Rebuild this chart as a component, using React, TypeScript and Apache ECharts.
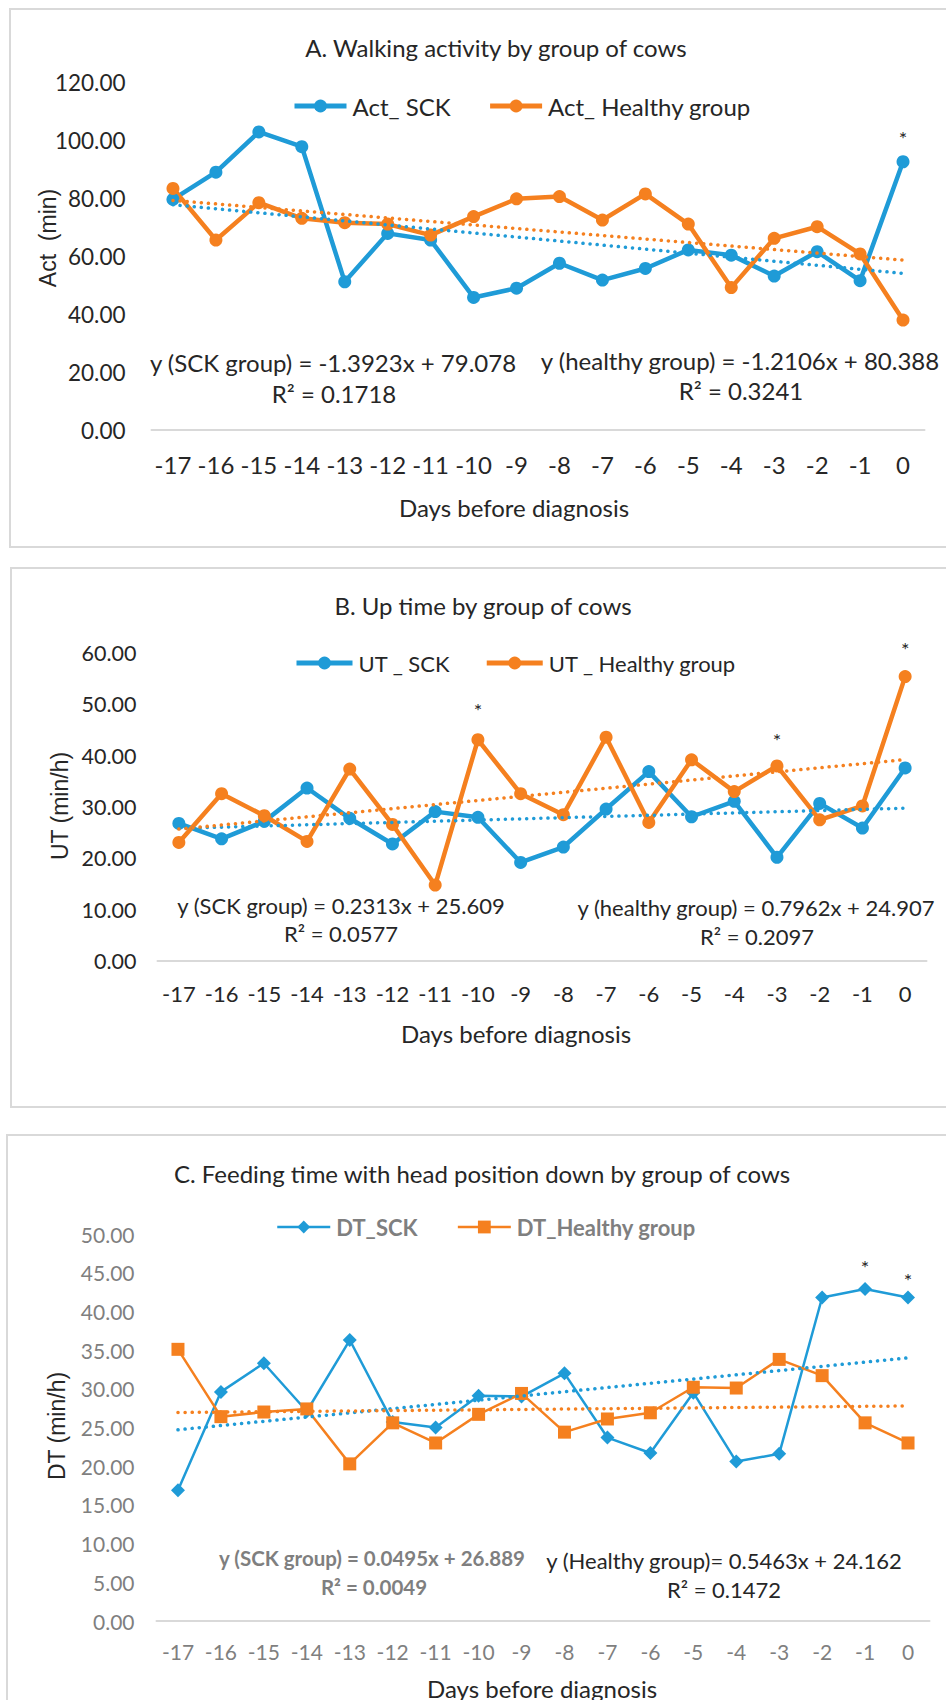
import React, { useEffect, useRef } from 'react';
import * as echarts from 'echarts';

const days = ['-17', '-16', '-15', '-14', '-13', '-12', '-11', '-10', '-9', '-8', '-7', '-6', '-5', '-4', '-3', '-2', '-1', '0'];

const actSCK = [79.5, 88.9, 102.8, 97.7, 51.1, 67.8, 65.5, 45.7, 48.9, 57.5, 51.7, 55.7, 62.1, 60.3, 53.1, 61.5, 51.5, 92.5];
const actHealthy = [83.3, 65.5, 78.4, 73.0, 71.5, 71.0, 67.2, 73.6, 79.7, 80.5, 72.4, 81.4, 71.0, 49.1, 66.1, 70.1, 60.7, 37.9];
const utSCK = [26.8, 23.8, 27.2, 33.7, 27.8, 22.8, 29.1, 28.0, 19.2, 22.2, 29.6, 36.9, 28.1, 31.1, 20.2, 30.7, 25.9, 37.6];
const utHealthy = [23.1, 32.6, 28.3, 23.3, 37.4, 26.6, 14.8, 43.1, 32.6, 28.5, 43.6, 27.0, 39.2, 33.0, 38.0, 27.5, 30.2, 55.4];
const dtSCK = [16.9, 29.6, 33.3, 27.1, 36.3, 25.7, 25.0, 29.1, 29.0, 32.0, 23.7, 21.7, 29.5, 20.6, 21.6, 41.8, 42.9, 41.8];
const dtHealthy = [35.1, 26.4, 27.0, 27.4, 20.3, 25.6, 23.0, 26.7, 29.4, 24.4, 26.1, 26.9, 30.2, 30.1, 33.8, 31.7, 25.6, 23.0];

// trendline coefficients [slope, intercept] (x = 1..18)
const actTrendSCK = [-1.3923, 79.078];
const actTrendHealthy = [-1.2106, 80.388];
const utTrendSCK = [0.2313, 25.609];
const utTrendHealthy = [0.7962, 24.907];
const dtTrendSCK = [0.5463, 24.162];
const dtTrendHealthy = [0.0495, 26.889];

// significance markers (category indices)
const actStarsSCK = [17];
const utStarsHealthy = [7, 14, 17];
const dtStarsSCK = [16, 17];

const BLUE = '#1F9BD7';
const ORANGE = '#F5801F';
const FONT = 'Lato';
const DARK = '#262626';
const GRAY = '#7F7F7F';

function mainSeries(name: string, data: number[], idx: number, color: string, symbol: string, symbolSize: number, width: number, stars: number[], starDist: number[]) {
  return {
    type: 'line',
    name,
    xAxisIndex: idx,
    yAxisIndex: idx,
    symbol,
    symbolSize,
    showSymbol: true,
    lineStyle: { color, width },
    itemStyle: { color, borderWidth: 0 },
    emphasis: { disabled: true },
    z: 3,
    data: data.map((v, i) => {
      const k = stars.indexOf(i);
      if (k < 0) return v;
      return {
        value: v,
        label: {
          show: true,
          formatter: '*',
          position: 'top',
          distance: starDist[k],
          color: DARK,
          fontSize: 20,
          fontFamily: FONT,
        },
      };
    }),
  };
}

function trendSeries(name: string, coef: number[], idx: number, color: string) {
  return {
    type: 'line',
    name,
    xAxisIndex: idx,
    yAxisIndex: idx,
    symbol: 'none',
    silent: true,
    lineStyle: { color, width: 3.5, type: [0.1, 7], cap: 'round' },
    emphasis: { disabled: true },
    z: 4,
    data: days.map((_, i) => +(coef[1] + coef[0] * (i + 1)).toFixed(3)),
  };
}

function txt(text: string, x: number, y: number, size: number, color = DARK, weight = 'normal', family = FONT, rotation = 0) {
  return {
    type: 'text',
    x,
    y,
    rotation,
    style: {
      text,
      fill: color,
      fontSize: size,
      fontFamily: family,
      fontWeight: weight,
      textAlign: 'center',
      textVerticalAlign: 'middle',
    },
    z: 10,
  };
}

export default function App() {
  const ref = useRef<HTMLDivElement>(null);
  useEffect(() => {
    const chart = echarts.init(ref.current as HTMLDivElement, null, { renderer: 'svg', width: 946, height: 1700 });
    const xBase = (gi: number, size: number, margin: number, color: string) => ({
      type: 'category',
      gridIndex: gi,
      data: days,
      boundaryGap: true,
      axisLine: { show: true, lineStyle: { color: '#D9D9D9', width: 2 } },
      axisTick: { show: false },
      axisLabel: { color, fontSize: size, fontFamily: FONT, margin, interval: 0 },
      splitLine: { show: false },
    });
    const yBase = (gi: number, max: number, interval: number, size: number, margin: number, color: string) => ({
      type: 'value',
      gridIndex: gi,
      min: 0,
      max,
      interval,
      axisLine: { show: false },
      axisTick: { show: false },
      splitLine: { show: false },
      axisLabel: { color, fontSize: size, fontFamily: FONT, margin, formatter: (v: number) => v.toFixed(2) },
    });
    const legendBase = (names: string[], left: number, top: number, size: number, gap: number, itemW: number, itemH: number, lineW: number, color: string, weight: string) => ({
      data: names,
      left,
      top,
      padding: 0,
      itemGap: gap,
      itemWidth: itemW,
      itemHeight: itemH,
      selectedMode: false,
      lineStyle: { width: lineW },
      textStyle: { color, fontSize: size, fontFamily: FONT, fontWeight: weight, padding: [0, 0, 0, 1] },
    });

    chart.setOption({
      animation: false,
      backgroundColor: '#fff',
      grid: [
        { left: 151.5, top: 82, width: 773, height: 348 },
        { left: 157.5, top: 653, width: 769, height: 308 },
        { left: 156.5, top: 1234, width: 773, height: 387 },
      ],
      xAxis: [xBase(0, 24, 22, DARK), xBase(1, 22, 21, DARK), xBase(2, 21, 20, GRAY)],
      yAxis: [yBase(0, 120, 20, 22.5, 26, DARK), yBase(1, 60, 10, 21.5, 21, DARK), yBase(2, 50, 5, 21, 22, GRAY)],
      legend: [
        legendBase(['Act_ SCK', 'Act_ Healthy group'], 292, 94, 24, 37, 52, 16, 5, DARK, 'normal'),
        legendBase(['UT _ SCK', 'UT _ Healthy group'], 294, 652, 22, 34, 56, 16, 5, DARK, 'normal'),
        legendBase(['DT_SCK', 'DT_Healthy group'], 276, 1216, 22, 39, 53, 16, 2.5, GRAY, 'bold'),
      ],
      series: [
        mainSeries('Act_ SCK', actSCK, 0, BLUE, 'circle', 13, 4.5, actStarsSCK, [7]),
        mainSeries('Act_ Healthy group', actHealthy, 0, ORANGE, 'circle', 13, 4.5, [], []),
        trendSeries('Act SCK trend', actTrendSCK, 0, BLUE),
        trendSeries('Act Healthy trend', actTrendHealthy, 0, ORANGE),
        mainSeries('UT _ SCK', utSCK, 1, BLUE, 'circle', 13, 4.5, [], []),
        mainSeries('UT _ Healthy group', utHealthy, 1, ORANGE, 'circle', 13, 4.5, utStarsHealthy, [13, 9, 11]),
        trendSeries('UT SCK trend', utTrendSCK, 1, BLUE),
        trendSeries('UT Healthy trend', utTrendHealthy, 1, ORANGE),
        mainSeries('DT_SCK', dtSCK, 2, BLUE, 'diamond', 14, 2.5, dtStarsSCK, [5, 0]),
        mainSeries('DT_Healthy group', dtHealthy, 2, ORANGE, 'rect', 13, 2.5, [], []),
        trendSeries('DT SCK trend', dtTrendSCK, 2, BLUE),
        trendSeries('DT Healthy trend', dtTrendHealthy, 2, ORANGE),
      ],
      graphic: [
        { type: 'rect', shape: { x: 10, y: 9, width: 960, height: 538 }, style: { fill: 'none', stroke: '#D9D9D9', lineWidth: 2 }, z: -1 },
        { type: 'rect', shape: { x: 11, y: 568, width: 960, height: 539 }, style: { fill: 'none', stroke: '#D9D9D9', lineWidth: 2 }, z: -1 },
        { type: 'rect', shape: { x: 7, y: 1135, width: 960, height: 600 }, style: { fill: 'none', stroke: '#D9D9D9', lineWidth: 2 }, z: -1 },
        txt('A. Walking activity by group of cows', 496, 47, 24),
        txt('B. Up time by group of cows', 483, 605, 24),
        txt('C. Feeding time with head position down by group of cows', 482, 1173, 24),
        txt('Days before diagnosis', 514, 507, 24),
        txt('Days before diagnosis', 516, 1033, 24),
        txt('Days before diagnosis', 542, 1688, 24),
        txt('Act  (min)', 48, 238, 23, DARK, 'normal', 'Liberation Sans', Math.PI / 2),
        txt('UT (min/h)', 60, 806, 23, DARK, 'normal', 'Liberation Sans', Math.PI / 2),
        txt('DT (min/h)', 57, 1426, 23, DARK, 'normal', 'Liberation Sans', Math.PI / 2),
        txt('y (SCK group) = -1.3923x + 79.078', 333, 362, 24),
        txt('R² = 0.1718', 334, 393, 24),
        txt('y (healthy group) = -1.2106x + 80.388', 740, 360, 24),
        txt('R² = 0.3241', 741, 390, 24),
        txt('y (SCK group) = 0.2313x + 25.609', 341, 905, 22),
        txt('R² = 0.0577', 341, 933, 22),
        txt('y (healthy group) = 0.7962x + 24.907', 756, 907, 22),
        txt('R² = 0.2097', 757, 936, 22),
        txt('y (SCK group) = 0.0495x + 26.889', 372, 1558, 20.5, GRAY, 'bold'),
        txt('R² = 0.0049', 374, 1587, 20.5, GRAY, 'bold'),
        txt('y (Healthy group)= 0.5463x + 24.162', 724, 1560, 22),
        txt('R² = 0.1472', 724, 1589, 22),
      ],
    });
    return () => chart.dispose();
  }, []);
  return <div ref={ref} style={{ position: 'absolute', left: 0, top: 0, width: 946, height: 1700, background: '#fff' }} />;
}
